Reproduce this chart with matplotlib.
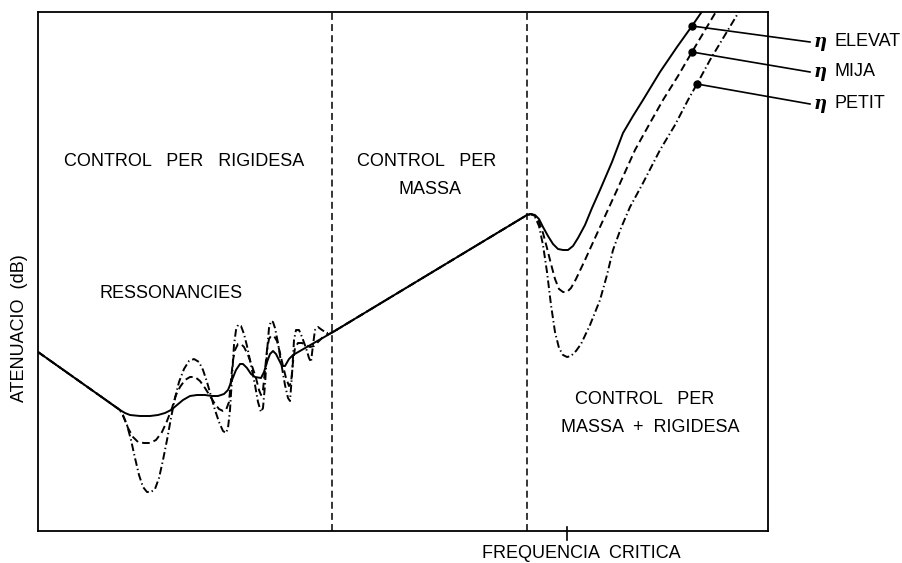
import numpy as np
import matplotlib
matplotlib.use("Agg")
import matplotlib.pyplot as plt

plt.rcParams['font.family'] = ['Liberation Sans', 'DejaVu Sans']
plt.rcParams['lines.scale_dashes'] = False

# curves (x = frequency, y = attenuation, drawing units, y downwards)
elevat_x = [38, 120, 125, 130, 140, 150, 158, 165, 171, 177, 183, 190, 197, 205, 212, 218, 224, 228, 232, 236,
            240, 243, 247, 251, 255, 261, 264, 267, 270, 273, 276, 279, 282, 285, 289, 293, 333,
            527, 531, 535, 539, 543, 548, 553, 558, 563, 568, 573, 578, 585, 592, 600, 612, 623, 633, 643,
            660, 677, 692, 703]
elevat_y = [352, 410, 413, 415, 416, 416, 415, 413, 410, 405, 400, 396, 395, 395, 396, 396, 394, 390, 380, 370,
            364, 364, 368, 374, 377, 378, 372, 362, 354, 351, 354, 360, 366, 366, 359, 355, 332,
            215, 214, 215, 219, 227, 236, 244, 249, 250, 250, 246, 238, 225, 208, 190, 162, 133, 116, 100,
            72, 47, 26, 10]

mija_x = [38, 120, 124, 128, 133, 138, 144, 150, 156, 162, 167, 172, 176, 180, 185, 190, 195, 200, 205, 210,
          215, 219, 223, 226, 229, 231, 233, 235, 238, 241, 244, 248, 252, 256, 259, 261, 263, 265, 267, 269,
          271, 274, 277, 280, 283, 286, 289, 291, 293, 295, 298, 302, 306, 310, 314, 318, 323, 333,
          527, 531, 535, 539, 543, 547, 551, 555, 559, 563, 567, 571, 576, 585, 600, 617, 635, 650, 663,
          678, 692, 717]
mija_y = [352, 410, 418, 428, 437, 442, 443, 443, 440, 432, 421, 408, 395, 387, 380, 377, 377, 381, 388, 396,
          404, 409, 411, 410, 402, 380, 360, 350, 344, 344, 347, 355, 366, 378, 390, 395, 390, 370, 350, 339,
          336, 336, 341, 353, 366, 378, 386, 383, 362, 348, 343, 343, 345, 347, 346, 342, 337, 332,
          215, 214, 216, 222, 233, 248, 264, 279, 289, 292, 292, 288, 279, 260, 227, 190, 150, 123, 100,
          76, 52, 10]

petit_x = [38, 120, 123, 127, 131, 135, 139, 143, 147, 151, 155, 159, 163, 167, 171, 175, 179, 184, 189, 194,
           199, 203, 207, 211, 215, 219, 223, 226, 228, 230, 232, 234, 236, 238, 241, 244, 247, 251, 255, 258,
           261, 263, 265, 267, 269, 271, 273, 275, 278, 281, 285, 288, 290, 292, 294, 296, 299, 302, 306, 309,
           311, 313, 315, 318, 322, 327, 333,
           527, 531, 535, 539, 543, 547, 551, 555, 559, 563, 567, 571, 576, 581, 590, 600, 607, 613, 621,
           630, 643, 660, 675, 688, 697, 710, 740]
petit_y = [352, 410, 415, 425, 440, 458, 475, 487, 492, 492, 489, 478, 460, 440, 418, 398, 382, 369, 361, 359,
           362, 370, 382, 396, 410, 422, 431, 433, 428, 410, 378, 345, 330, 325, 326, 334, 346, 365, 385, 402,
           412, 408, 385, 352, 328, 321, 322, 328, 343, 362, 385, 398, 401, 375, 340, 330, 330, 337, 348, 358,
           362, 345, 330, 327, 330, 333, 332,
           215, 214, 217, 226, 245, 272, 305, 332, 348, 355, 357, 356, 351, 344, 325, 300, 275, 250, 228,
           207, 183, 150, 125, 100, 84, 60, 10]

region_edges = [332, 527]
critical_freq = 567

labels = ['ELEVAT', 'MIJA', 'PETIT']
label_dots = [(692, 26), (692, 52), (697, 84)]
label_ends = [(810, 42), (810, 72), (810, 104)]

fig = plt.figure(figsize=(9.02, 5.63), dpi=100)
ax = fig.add_axes([38 / 902, 32 / 563, 730 / 902, 519 / 563])
ax.set_xlim(38, 768)
ax.set_ylim(531, 12)
ax.set_xticks([])
ax.set_yticks([])
for s in ax.spines.values():
    s.set_linewidth(1.3)

lw = 1.4
ax.plot(elevat_x, elevat_y, color='black', lw=lw, solid_joinstyle='round')
ax.plot(mija_x, mija_y, color='black', lw=lw, linestyle=(0, (5.5, 3)))
ax.plot(petit_x, petit_y, color='black', lw=lw, linestyle=(0, (5.5, 2.2, 1, 2.2)))

for xv in region_edges:
    ax.axvline(xv, color='black', lw=1.1, linestyle=(0, (5, 3)))

# critical frequency tick
ax.plot([critical_freq, critical_freq], [527, 540], color='black', lw=1.2, clip_on=False)

fs = 13
ax.text(581, 553, 'FREQUENCIA  CRITICA', ha='center', va='center', fontsize=fs)
ax.text(20, 328, 'ATENUACIO  (dB)', ha='center', va='center', rotation=90, fontsize=fs)

ax.text(184, 162, 'CONTROL   PER   RIGIDESA', ha='center', va='center', fontsize=fs)
ax.text(427, 162, 'CONTROL   PER', ha='center', va='center', fontsize=fs)
ax.text(430, 190, 'MASSA', ha='center', va='center', fontsize=fs)
ax.text(171, 294, 'RESSONANCIES', ha='center', va='center', fontsize=fs)
ax.text(645, 399, 'CONTROL   PER', ha='center', va='center', fontsize=fs)
ax.text(650, 427, 'MASSA  +  RIGIDESA', ha='center', va='center', fontsize=fs)

for lab, (dx, dy), (ex, ey) in zip(labels, label_dots, label_ends):
    ax.plot([dx, ex], [dy, ey], color='black', lw=1.2, clip_on=False)
    ax.plot(dx, dy, 'o', color='black', ms=5, clip_on=False)
    ax.text(814, ey, 'η', family='DejaVu Serif', weight='bold', style='italic',
            ha='left', va='center', fontsize=13)
    ax.text(834, ey - 1, lab, ha='left', va='center', fontsize=fs)

fig.savefig('out.png', dpi=100)
